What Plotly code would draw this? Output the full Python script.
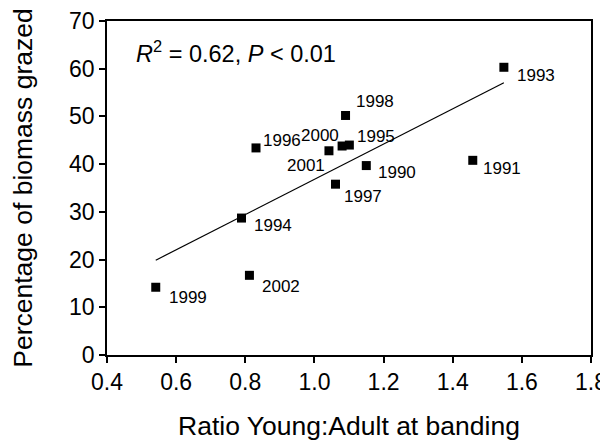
import numpy as np
import plotly.graph_objects as go

# ---- data ----
years = ["1999", "2002", "1994", "1996", "2001", "2000", "1995", "1998", "1997", "1990", "1991", "1993"]
ratio_young_adult = [0.541, 0.812, 0.789, 0.831, 1.042, 1.080, 1.101, 1.090, 1.061, 1.150, 1.458, 1.548]
pct_biomass_grazed = [14.2, 16.7, 28.7, 43.4, 42.8, 43.8, 44.0, 50.2, 35.8, 39.7, 40.8, 60.3]
x_ticks = [0.4, 0.6, 0.8, 1.0, 1.2, 1.4, 1.6, 1.8]
y_ticks = [0, 10, 20, 30, 40, 50, 60, 70]
stats_text = "<i>R</i><sup>2</sup> = 0.62, <i>P</i> < 0.01"

# ---- label placement (pixels: anchor, xshift, yshift) ----
label_place = {
    "1999": ("left", 11, -10), "2002": ("left", 11, -11), "1994": ("left", 11, -7),
    "1996": ("left", 5, 7), "2001": ("right", -2, -15), "2000": ("right", -1, 11),
    "1995": ("left", 6, 9), "1998": ("left", 8, 14), "1997": ("left", 6, -12),
    "1990": ("left", 10, -7), "1991": ("left", 8, -8), "1993": ("left", 11, -8),
}

FONT = "Liberation Sans, Arial, sans-serif"

x = np.array(ratio_young_adult)
y = np.array(pct_biomass_grazed)
slope, intercept = np.polyfit(x, y, 1)
line_x = np.array([x.min(), x.max()])
line_y = slope * line_x + intercept

fig = go.Figure()
fig.add_trace(go.Scatter(x=line_x, y=line_y, mode="lines",
                         line=dict(color="black", width=1.2), hoverinfo="skip"))
fig.add_trace(go.Scatter(x=ratio_young_adult, y=pct_biomass_grazed, mode="markers",
                         marker=dict(symbol="square", size=9, color="black"),
                         text=years))

for yr, xv, yv in zip(years, ratio_young_adult, pct_biomass_grazed):
    anc, dx, dy = label_place[yr]
    fig.add_annotation(x=xv, y=yv, text=yr, showarrow=False, xanchor=anc, yanchor="middle",
                       xshift=dx, yshift=dy, font=dict(size=17, color="black", family=FONT))

fig.add_annotation(x=0, y=1, xref="paper", yref="paper", text=stats_text, showarrow=False,
                   xanchor="left", yanchor="middle", xshift=27, yshift=-31,
                   font=dict(size=23.5, color="black", family=FONT))

# the page body adds an 8px offset at left/top, so margins are compensated
fig.update_layout(
    width=608, height=442,
    margin=dict(l=99, r=25, t=13, b=95),
    paper_bgcolor="white", plot_bgcolor="white",
    showlegend=False,
    font=dict(family=FONT, color="black"),
    xaxis=dict(range=[0.4, 1.8], tickvals=x_ticks, ticktext=[f"{v:.1f}" for v in x_ticks],
               showgrid=False, zeroline=False, showline=True, linecolor="black", linewidth=1.5,
               mirror=True, ticks="outside", ticklen=6, tickwidth=1.5, tickcolor="black",
               tickfont=dict(size=23), automargin=False,
               title=dict(text="Ratio Young:Adult at banding", font=dict(size=26.5), standoff=22)),
    yaxis=dict(range=[0, 70], tickvals=y_ticks, showgrid=False, zeroline=False,
               showline=True, linecolor="black", linewidth=1.5, mirror=True,
               ticks="outside", ticklen=6, tickwidth=1.5, tickcolor="black",
               tickfont=dict(size=23), automargin=False,
               title=dict(text="Percentage of biomass grazed", font=dict(size=26.5), standoff=36)),
)

fig.write_html("out.html")
